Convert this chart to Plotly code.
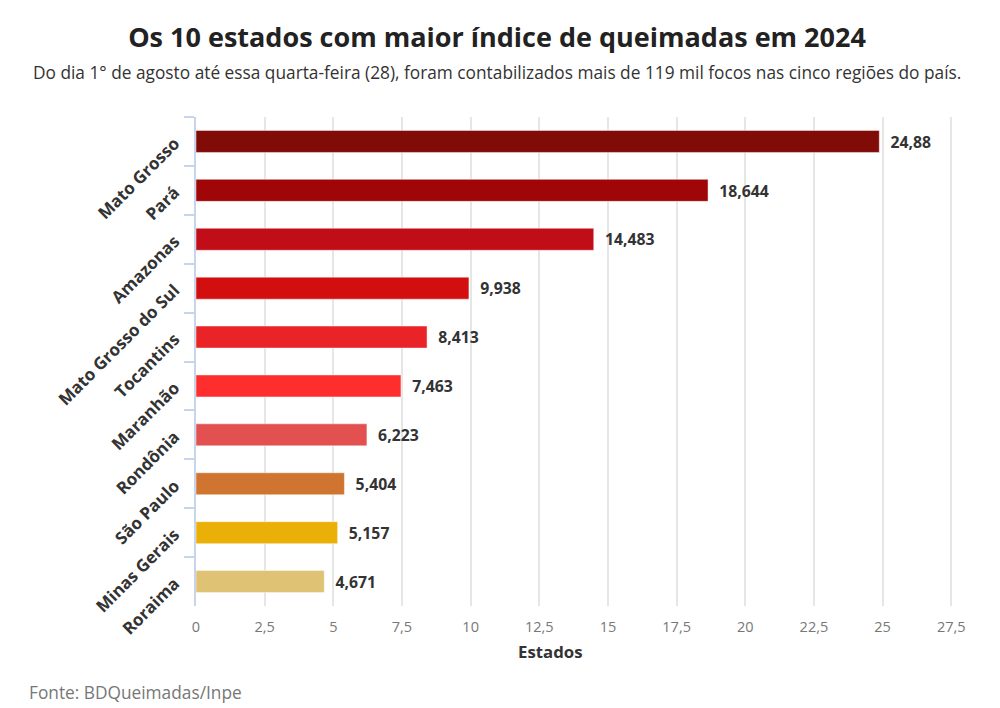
import plotly.graph_objects as go

estados = ["Mato Grosso", "Pará", "Amazonas", "Mato Grosso do Sul", "Tocantins",
           "Maranhão", "Rondônia", "São Paulo", "Minas Gerais", "Roraima"]
focos = [24.88, 18.644, 14.483, 9.938, 8.413, 7.463, 6.223, 5.404, 5.157, 4.671]
cores = ["#800b07", "#a00508", "#c10d18", "#d30e0f", "#ea2326",
         "#fe2e2f", "#e35050", "#d07530", "#ebb007", "#e0c274"]
x_ticks = [0, 2.5, 5, 7.5, 10, 12.5, 15, 17.5, 20, 22.5, 25, 27.5]
x_labels = [str(t).replace(".", ",") if t != int(t) else str(int(t)) for t in x_ticks]
textos = [str(v).replace(".", ",") for v in focos]

# page has an 8px body margin: figure starts at (8, 8) of the window
OFF = 8
W, H = 992, 700
L, R, T, B = 196 - OFF, W - (954 - OFF), 117 - OFF, H - (606 - OFF)
PW, PH = W - L - R, H - T - B


def px(xp):
    return (xp - OFF - L) / PW


def py(yp):
    return (H - B - (yp - OFF)) / PH


fig = go.Figure()
fig.add_trace(go.Bar(
    x=focos, y=estados, orientation="h",
    marker=dict(color=cores, line=dict(color="rgba(255,255,255,0.45)", width=1)),
    width=0.45,
    text=textos, texttemplate="  %{text}", textposition="outside", cliponaxis=False,
    textfont=dict(family="Open Sans", size=16.5, color="#333333", weight="bold"),
    hoverinfo="skip",
))

fig.update_layout(
    width=W, height=H,
    paper_bgcolor="white", plot_bgcolor="white",
    margin=dict(l=L, r=R, t=T, b=B, autoexpand=False),
    showlegend=False,
    separators=",.",
    font=dict(family="Open Sans", color="#333333"),
    title=dict(
        text="<b>Os 10 estados com maior índice de queimadas em 2024</b>",
        x=(497 - OFF) / W, xanchor="center", y=1 - (38 - OFF) / H, yanchor="middle",
        font=dict(family="Open Sans", size=27, color="#222222"),
    ),
    annotations=[
        dict(text="Do dia 1° de agosto até essa quarta-feira (28), foram contabilizados mais de 119 mil focos nas cinco regiões do país.",
             xref="paper", yref="paper", x=px(497), y=py(73),
             xanchor="center", yanchor="middle",
             showarrow=False, font=dict(size=17.3, color="#333333")),
        dict(text="<b>Estados</b>", xref="paper", yref="paper",
             x=px(550), y=py(651), xanchor="center", yanchor="middle",
             showarrow=False, font=dict(size=16.8, color="#333333")),
        dict(text="Fonte: BDQueimadas/Inpe", xref="paper", yref="paper",
             x=px(27), xanchor="left", y=py(692), yanchor="middle",
             showarrow=False, font=dict(size=17.3, color="#777777")),
    ],
)

fig.update_xaxes(
    range=[0, 27.6], tickvals=x_ticks, ticktext=x_labels,
    showgrid=True, gridcolor="#e6e6e6", gridwidth=1.5,
    zeroline=False, showline=False,
    ticks="outside", ticklen=8, tickcolor="rgba(0,0,0,0)",
    tickfont=dict(size=14.5, color="#777777"),
    automargin=False, fixedrange=True,
)
fig.update_yaxes(
    autorange="reversed", tickangle=-45,
    showline=True, linecolor="#c8d4ec", linewidth=2,
    ticks="outside", ticklen=10, tickcolor="#c8d4ec", tickwidth=2,
    tickson="boundaries", ticklabelstandoff=16,
    showgrid=False,
    tickfont=dict(size=17, color="#333333", weight="bold"),
    automargin=False, fixedrange=True,
)

fig.write_html("out.html")
